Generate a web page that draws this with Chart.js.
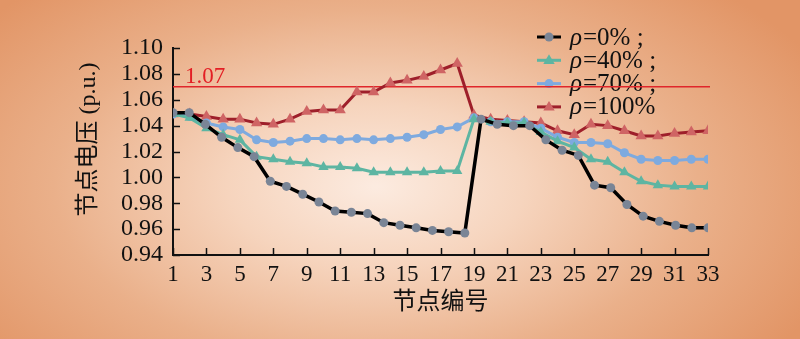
<!DOCTYPE html>
<html lang="zh">
<head>
  <meta charset="utf-8" />
  <title>节点电压</title>
  <style>
html, body {
  margin: 0;
  padding: 0;
  overflow: hidden;
}
body {
  width: 800px;
  height: 339px;
  background: radial-gradient(ellipse 62% 80% at 47% 55%, #fcebe0 0%, #f6d4bd 30%, #eab08a 65%, #e29566 100%);
}
#chartContainer {
  position: relative;
  width: 800px;
  height: 339px;
}
  </style>
</head>
<body>
  <div id="chartContainer">
    <canvas id="myChart" width="800" height="339"></canvas>
  </div>
  <script src="https://cdn.jsdelivr.net/npm/chart.js"></script>
  <script>
// 节点 1..33
const nodes = [1, 2, 3, 4, 5, 6, 7, 8, 9, 10, 11, 12, 13, 14, 15, 16, 17,
  18, 19, 20, 21, 22, 23, 24, 25, 26, 27, 28, 29, 30, 31, 32, 33];
// ρ=0% 的曲线在原图里有 34 个点, 均匀铺在 1..33 上
const blackIdx = [1, 2, 3, 4, 5, 6, 7, 8, 9, 10, 11, 12, 13, 14, 15, 16, 17,
  18, 19, 20, 21, 22, 23, 24, 25, 26, 27, 28, 29, 30, 31, 32, 33, 34];
const rho0 = [1.050, 1.050, 1.041, 1.031, 1.023, 1.016, 0.997, 0.993, 0.987, 0.981,
  0.974, 0.973, 0.972, 0.965, 0.963, 0.961, 0.959, 0.958, 0.957, 1.045,
  1.041, 1.040, 1.040, 1.029, 1.021, 1.017, 0.994, 0.992, 0.979, 0.970,
  0.966, 0.963, 0.961, 0.961];
const rho40 = [1.049, 1.046, 1.038, 1.033, 1.029, 1.016, 1.014, 1.012, 1.011, 1.008,
  1.008, 1.007, 1.004, 1.004, 1.004, 1.004, 1.005, 1.005, 1.045, 1.043,
  1.042, 1.042, 1.035, 1.028, 1.023, 1.014, 1.012, 1.004, 0.997, 0.994,
  0.993, 0.993, 0.993];
const rho70 = [1.049, 1.047, 1.042, 1.039, 1.037, 1.029, 1.027, 1.028, 1.030, 1.030,
  1.029, 1.030, 1.029, 1.030, 1.031, 1.033, 1.037, 1.039, 1.046, 1.043,
  1.043, 1.043, 1.038, 1.031, 1.027, 1.027, 1.026, 1.019, 1.014, 1.013,
  1.013, 1.014, 1.014];
const rho100 = [1.049, 1.049, 1.047, 1.045, 1.045, 1.042, 1.041, 1.045, 1.051, 1.052,
  1.052, 1.066, 1.066, 1.073, 1.075, 1.078, 1.083, 1.088, 1.048, 1.045,
  1.044, 1.043, 1.042, 1.036, 1.033, 1.041, 1.040, 1.036, 1.032, 1.032,
  1.034, 1.035, 1.036];
const seriesLabels = ['ρ=0% ;', 'ρ=40% ;', 'ρ=70% ;', 'ρ=100%'];
const xTicks = [1, 3, 5, 7, 9, 11, 13, 15, 17, 19, 21, 23, 25, 27, 29, 31, 33];
const yTicks = [0.94, 0.96, 0.98, 1.00, 1.02, 1.04, 1.06, 1.08, 1.10];
const limitValue = 1.07;
const limitLabel = '1.07';

const SERIF = "'Liberation Serif', 'Noto Sans CJK SC', serif";

function pts(xs, ys) {
  return xs.map((x, i) => ({x: x, y: ys[i]}));
}

function drawMarker(ctx, style, x, y, r, color) {
  ctx.fillStyle = color;
  ctx.beginPath();
  if (style === 'triangle') {
    ctx.moveTo(x, y - r);
    ctx.lineTo(x + r * 0.95, y + r * 0.6);
    ctx.lineTo(x - r * 0.95, y + r * 0.6);
    ctx.closePath();
  } else {
    ctx.arc(x, y, r, 0, Math.PI * 2);
  }
  ctx.fill();
}

// 图例 + 1.07 限值线
const overlayPlugin = {
  id: 'overlay',
  beforeDatasetsDraw(chart) {
    const ctx = chart.ctx;
    const area = chart.chartArea;
    ctx.save();
    // legend
    chart.data.datasets.forEach((ds, i) => {
      const y = 37 + i * 23.3;
      ctx.strokeStyle = ds.borderColor;
      ctx.lineWidth = 3;
      ctx.beginPath();
      ctx.moveTo(537, y);
      ctx.lineTo(561, y);
      ctx.stroke();
      drawMarker(ctx, ds.pointStyle, 549, y, ds.pointStyle === 'triangle' ? 6 : 4.5, ds.pointBackgroundColor);
      ctx.fillStyle = '#111';
      ctx.textBaseline = 'middle';
      ctx.textAlign = 'left';
      ctx.font = 'italic 25px ' + SERIF;
      ctx.fillText(ds.label[0], 570, y + 1);
      const w = ctx.measureText(ds.label[0]).width;
      ctx.font = '25px ' + SERIF;
      ctx.fillText(ds.label.slice(1), 570 + w + 1, y + 1);
    });
    // limit line
    const yPx = chart.scales.y.getPixelForValue(limitValue);
    ctx.strokeStyle = '#e0262b';
    ctx.lineWidth = 1.5;
    ctx.beginPath();
    ctx.moveTo(area.left, yPx);
    ctx.lineTo(area.right + 2, yPx);
    ctx.stroke();
    ctx.fillStyle = '#e31e24';
    ctx.font = '23px ' + SERIF;
    ctx.textBaseline = 'alphabetic';
    ctx.fillText(limitLabel, area.left + 12, yPx - 4);
    ctx.restore();
  },
  afterDraw(chart) {
    // 向内的刻度线
    const ctx = chart.ctx;
    const area = chart.chartArea;
    const xs = chart.scales.x, ys = chart.scales.y;
    ctx.save();
    ctx.strokeStyle = '#111';
    ctx.lineWidth = 1.5;
    ctx.beginPath();
    xTicks.forEach(v => {
      const px = Math.round(xs.getPixelForValue(v)) + 0.5;
      ctx.moveTo(px, area.bottom);
      ctx.lineTo(px, area.bottom - 7);
    });
    yTicks.forEach(v => {
      const py = Math.round(ys.getPixelForValue(v)) + 0.5;
      ctx.moveTo(area.left, py);
      ctx.lineTo(area.left + 7, py);
    });
    ctx.stroke();
    ctx.restore();
  }
};

const ctx = document.getElementById('myChart');
const chart = new Chart(ctx, {
  type: 'line',
  data: {
    datasets: [{
      label: seriesLabels[0],
      data: pts(blackIdx, rho0),
      xAxisID: 'x2',
      borderColor: '#000000',
      borderWidth: 3.5,
      pointStyle: 'circle',
      pointRadius: 4.5,
      pointBackgroundColor: '#7a8596',
      pointBorderColor: '#7a8596',
      pointBorderWidth: 0,
      tension: 0
    }, {
      label: seriesLabels[1],
      data: pts(nodes, rho40),
      xAxisID: 'x',
      borderColor: '#5db5a2',
      borderWidth: 3,
      pointStyle: 'triangle',
      pointRadius: 6,
      pointBackgroundColor: '#5db5a2',
      pointBorderColor: '#5db5a2',
      pointBorderWidth: 0,
      tension: 0
    }, {
      label: seriesLabels[2],
      data: pts(nodes, rho70),
      xAxisID: 'x',
      borderColor: '#7eaadf',
      borderWidth: 3,
      pointStyle: 'circle',
      pointRadius: 4.5,
      pointBackgroundColor: '#7eaadf',
      pointBorderColor: '#7eaadf',
      pointBorderWidth: 0,
      tension: 0
    }, {
      label: seriesLabels[3],
      data: pts(nodes, rho100),
      xAxisID: 'x',
      borderColor: '#9e1f2a',
      borderWidth: 3,
      pointStyle: 'triangle',
      pointRadius: 6.5,
      pointBackgroundColor: '#cf6464',
      pointBorderColor: '#cf6464',
      pointBorderWidth: 0,
      tension: 0
    }]
  },
  options: {
    responsive: false,
    animation: false,
    layout: {padding: {left: 0, top: 48, right: 92, bottom: 0}},
    plugins: {
      legend: {display: false},
      tooltip: {enabled: false}
    },
    scales: {
      x: {
        type: 'linear',
        position: 'bottom',
        min: 1,
        max: 33,
        afterBuildTicks: s => { s.ticks = xTicks.map(v => ({value: v})); },
        afterFit: s => { s.height = 84; },
        grid: {display: true, drawOnChartArea: false, drawTicks: false},
        border: {display: true, color: '#111', width: 2},
        ticks: {
          font: {family: SERIF, size: 23},
          color: '#111',
          padding: 6,
          maxRotation: 0,
          autoSkip: false
        },
        title: {
          display: true,
          text: '节点编号',
          font: {family: SERIF, size: 24},
          color: '#111',
          padding: {top: 0, bottom: 22}
        }
      },
      x2: {
        type: 'linear',
        position: 'bottom',
        min: 1,
        max: 34,
        display: false
      },
      y: {
        min: 0.94,
        max: 1.10,
        afterBuildTicks: s => { s.ticks = yTicks.map(v => ({value: v})); },
        afterFit: s => { s.width = 173; },
        grid: {display: true, drawOnChartArea: false, drawTicks: false},
        border: {display: true, color: '#111', width: 2},
        ticks: {
          font: {family: SERIF, size: 24},
          color: '#111',
          padding: 10,
          autoSkip: false,
          callback: v => v.toFixed(2)
        },
        title: {
          display: true,
          text: '\u2003节点电压 (p.u.)',
          font: {family: SERIF, size: 24},
          color: '#111',
          padding: {top: 74, bottom: 0}
        }
      }
    }
  },
  plugins: [overlayPlugin]
});
  </script>
</body>
</html>
